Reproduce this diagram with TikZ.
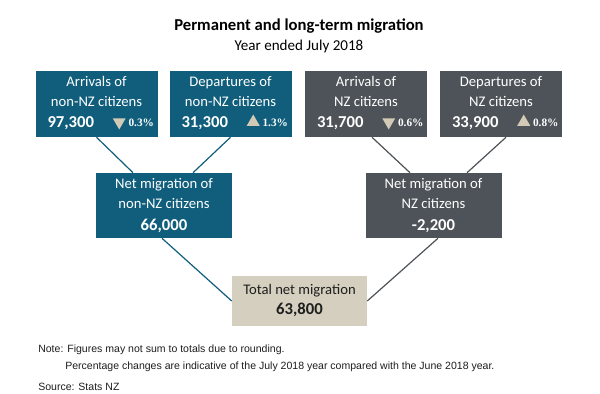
\documentclass[tikz,border=0pt]{standalone}
\usepackage{fontspec}
\setmainfont{Carlito}
\newfontfamily\notefont{Liberation Sans}
\newfontfamily\pctfont{Liberation Serif}
\usetikzlibrary{calc,shapes.geometric}

\newlength{\du}
\setlength{\du}{0.75pt}

\definecolor{nzteal}{RGB}{16,94,124}
\definecolor{nzgrey}{RGB}{77,83,88}
\definecolor{nzsand}{RGB}{212,207,190}
\definecolor{nztri}{RGB}{210,202,182}
\definecolor{nzink}{RGB}{30,30,30}

\tikzset{
  topbox/.style={minimum width=122\du, minimum height=66\du, inner sep=0pt},
  netbox/.style={minimum width=136\du, minimum height=65\du, inner sep=0pt, align=center, text=white, font=\fontsize{11}{15}\selectfont},
  totbox/.style={fill=nzsand, minimum width=135\du, minimum height=50\du, inner sep=0pt, align=center, text=nzink, font=\fontsize{11}{15}\selectfont},
  lbltxt/.style={inner sep=0pt, align=center, text=white, font=\fontsize{11}{15.5}\selectfont},
  numtxt/.style={inner sep=0pt, anchor=west, text=white, font=\fontsize{12.5}{15}\selectfont\bfseries},
  pcttxt/.style={inner sep=0pt, anchor=west, text=white, font=\fontsize{8.5}{10}\selectfont\pctfont\bfseries},
  trimark/.style={regular polygon, regular polygon sides=3, fill=nztri, minimum size=15\du, inner sep=0pt},
  notetxt/.style={inner sep=0pt, anchor=west, text=nzink, font=\fontsize{7.9}{9}\selectfont\notefont},
  link/.style={line width=1.2\du},
}

% top box: name, centre x, colour, line 1, line 2, number, triangle turn, change
\newcommand{\flowbox}[8]{%
  \node[topbox, fill=#3] (#1) at (#2\du,104\du) {};
  \node[lbltxt] (#1lbl) at ($(#1.center)+(0,-12.5\du)$) {#4\\#5};
  \node[numtxt] (#1num) at ($(#1.west)+(12\du,19\du)$) {#6};
  \node[trimark, shape border rotate=#7] (#1tri) at ($(#1.west)+(84\du,18\du)$) {};
  \node[pcttxt] (#1pct) at ($(#1.west)+(93\du,19\du)$) {#8};
}

\begin{document}
\begin{tikzpicture}
\pgftransformyscale{-1.000000}
\path[fill=white, use as bounding box] (0\du,0\du) rectangle (600\du,393\du);

\node[font=\fontsize{12.5}{14}\selectfont\bfseries] (title) at (299\du,26\du) {Permanent and long-term migration};
\node[font=\fontsize{11.3}{13}\selectfont] (subtitle) at (299\du,46\du) {Year ended July 2018};

% arrivals and departures
\flowbox{arrA}{96.5}{nzteal}{Arrivals of}{non-NZ citizens}{97,300}{180}{0.3\%}
\flowbox{depA}{230.5}{nzteal}{Departures of}{non-NZ citizens}{31,300}{0}{1.3\%}
\flowbox{arrB}{366}{nzgrey}{Arrivals of}{NZ citizens}{31,700}{180}{0.6\%}
\flowbox{depB}{501}{nzgrey}{Departures of}{NZ citizens}{33,900}{0}{0.8\%}

% net migration
\node[netbox, fill=nzteal] (netA) at (164\du,205.5\du) {Net migration of\\non-NZ citizens\\[1.5pt]{\fontsize{12.5}{15}\selectfont\bfseries 66,000}};
\node[netbox, fill=nzgrey] (netB) at (433.5\du,205.5\du) {Net migration of\\NZ citizens\\[1.5pt]{\fontsize{12.5}{15}\selectfont\bfseries -2,200}};
\node[totbox] (total) at (299.5\du,301\du) {Total net migration\\{\fontsize{12.5}{15}\selectfont\bfseries 63,800}};

\draw[link, draw=nzteal] (arrA.south) -- ($(netA.north)+(-31\du,0)$);
\draw[link, draw=nzteal] (depA.south) -- ($(netA.north)+(29\du,0)$);
\draw[link, draw=nzgrey] ($(arrB.south)+(6\du,0)$) -- ($(netB.north)+(-23.5\du,0)$);
\draw[link, draw=nzgrey] ($(depB.south)+(5\du,0)$) -- ($(netB.north)+(33.5\du,0)$);
\draw[link, draw=nzteal] ($(netA.south)+(-2\du,0)$) -- (total.west);
\draw[link, draw=nzgrey] ($(netB.south)+(4.5\du,0)$) -- (total.east);

% notes
\node[notetxt] (note1) at (38\du,350\du) {Note: Figures may not sum to totals due to rounding.};
\node[notetxt] (note2) at (65\du,367\du) {Percentage changes are indicative of the July 2018 year compared with the June 2018 year.};
\node[notetxt] (source) at (38\du,387\du) {Source: Stats NZ};
\end{tikzpicture}
\end{document}
